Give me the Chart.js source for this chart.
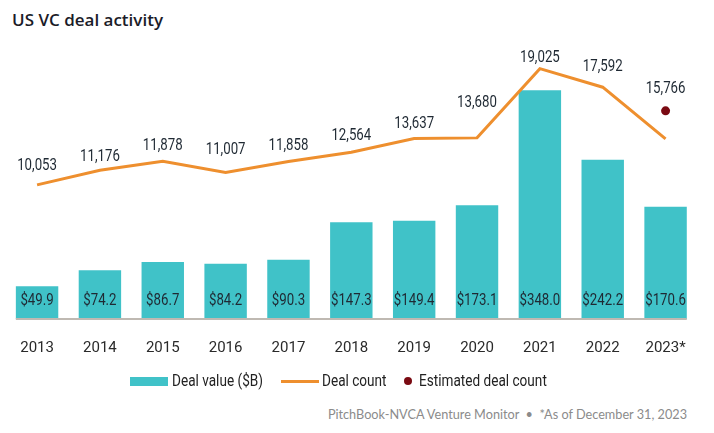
<!DOCTYPE html>
<html>
<head>
<meta charset="utf-8">
<script src="https://cdn.jsdelivr.net/npm/chart.js@4"></script>
<style>
  body { margin: 0; background: #fff; width: 714px; height: 433px; position: relative; overflow: hidden; }
  #title { position: absolute; left: 12px; top: 8px; font: 600 17px "Open Sans", sans-serif; color: #1b1b28; }
  #wrap { position: absolute; left: 0; top: 0; width: 714px; height: 380px; }
  .lg { position: absolute; top: 370px; font: 17px Roboto, sans-serif; color: #222; transform: scaleX(0.8); transform-origin: 0 50%; white-space: nowrap; }
  .sw { position: absolute; }
  #foot { position: absolute; right: 27px; top: 406px; font: 12.7px Lato, sans-serif; color: #8b8b8b; }
</style>
</head>
<body>
<div id="title">US VC deal activity</div>
<div id="wrap"><canvas id="chart"></canvas></div>

<div class="sw" style="left:130px; top:377px; width:38px; height:9px; background:#40c2c8;"></div>
<div class="lg" style="left:172px;">Deal value ($B)</div>
<div class="sw" style="left:281px; top:380px; width:38px; height:3px; background:#ee8f2e;"></div>
<div class="lg" style="left:322px;">Deal count</div>
<div class="sw" style="left:404px; top:377px; width:8px; height:8px; border-radius:50%; background:#7a0a12;"></div>
<div class="lg" style="left:419px;">Estimated deal count</div>

<div id="foot">PitchBook-NVCA Venture Monitor &nbsp;•&nbsp; *As of December 31, 2023</div>

<script>
const years = ["2013", "2014", "2015", "2016", "2017", "2018", "2019", "2020", "2021", "2022", "2023*"];
const dealValue = [49.9, 74.2, 86.7, 84.2, 90.3, 147.3, 149.4, 173.1, 348.0, 242.2, 170.6];
const dealCount = [10053, 11176, 11878, 11007, 11858, 12564, 13637, 13680, 19025, 17592, 13608];
const estCount = [null, null, null, null, null, null, null, null, null, null, 15766];

// how far above each point the count label sits (px)
const lift = [19, 14, 15, 23, 16, 17, 15, 35, 11, 20, 22];

const labelFont = '17px Roboto';
const squeeze = 0.78;

function squeezedText(ctx, txt, x, y) {
  ctx.save();
  ctx.translate(x, y);
  ctx.scale(squeeze, 1);
  ctx.fillText(txt, 0, 0);
  ctx.restore();
}

const valueLabels = {
  id: 'valueLabels',
  afterDatasetsDraw(chart) {
    const ctx = chart.ctx;
    const area = chart.chartArea;
    const bars = chart.getDatasetMeta(0).data;

    // base line under the bars
    const first = bars[0], last = bars[bars.length - 1];
    ctx.save();
    ctx.strokeStyle = '#bfb9b2';
    ctx.lineWidth = 2;
    ctx.beginPath();
    ctx.moveTo(first.x - first.width / 2, area.bottom);
    ctx.lineTo(last.x + last.width / 2, area.bottom);
    ctx.stroke();

    ctx.font = labelFont;
    ctx.textAlign = 'center';
    ctx.textBaseline = 'middle';
    ctx.fillStyle = '#1f2933';

    bars.forEach((el, i) => {
      squeezedText(ctx, '$' + dealValue[i].toFixed(1), el.x, area.bottom - 18);
    });

    const pts = chart.getDatasetMeta(1).data;
    pts.forEach((el, i) => {
      if (i === pts.length - 1) return;
      squeezedText(ctx, dealCount[i].toLocaleString('en-US'), el.x, el.y - lift[i]);
    });

    const est = chart.getDatasetMeta(2).data;
    est.forEach((el, i) => {
      if (estCount[i] == null) return;
      squeezedText(ctx, estCount[i].toLocaleString('en-US'), el.x, el.y - lift[i]);
    });
    ctx.restore();
  }
};

new Chart(document.getElementById('chart'), {
  type: 'bar',
  data: {
    labels: years,
    datasets: [
      {
        label: 'Deal value ($B)',
        data: dealValue,
        backgroundColor: '#40c2c8',
        yAxisID: 'y',
        order: 2,
        barPercentage: 0.9,
        categoryPercentage: 0.75
      },
      {
        type: 'line',
        label: 'Deal count',
        data: dealCount,
        borderColor: '#ee8f2e',
        borderWidth: 3,
        pointRadius: 0,
        tension: 0,
        yAxisID: 'y1',
        order: 1
      },
      {
        type: 'line',
        label: 'Estimated deal count',
        data: estCount,
        showLine: false,
        pointRadius: 4.5,
        pointBackgroundColor: '#7a0a12',
        pointBorderWidth: 0,
        yAxisID: 'y1',
        order: 0
      }
    ]
  },
  options: {
    responsive: true,
    maintainAspectRatio: false,
    animation: false,
    layout: { padding: { top: 56, left: 2, right: 17, bottom: 3 } },
    plugins: {
      legend: { display: false },
      tooltip: { enabled: false }
    },
    scales: {
      x: {
        grid: { display: false, drawTicks: false },
        border: { display: false },
        ticks: {
          color: '#2a2a2a',
          padding: 20,
          font: { family: 'Roboto, sans-serif', size: 15 }
        }
      },
      y: { display: false, min: 0, max: 400 },
      y1: { display: false, min: -300, max: 20000 }
    }
  },
  plugins: [valueLabels]
});
</script>
</body>
</html>
